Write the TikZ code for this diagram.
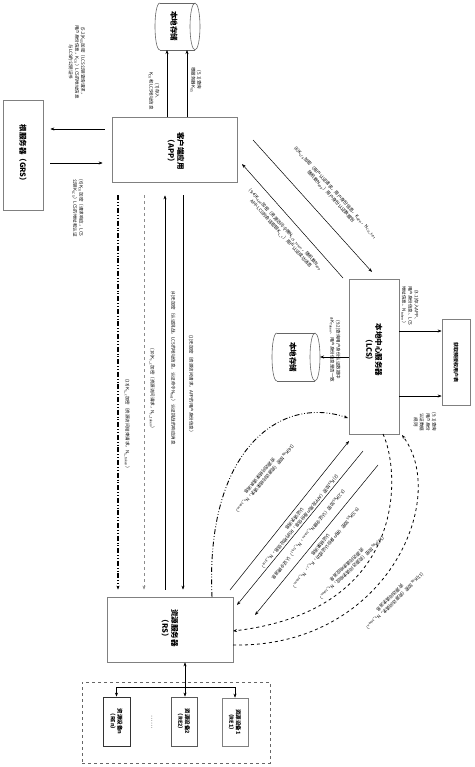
\documentclass[tikz,border=0pt]{standalone}
\usepackage{fontspec}
\setmainfont{Noto Sans CJK SC}
\usetikzlibrary{arrows.meta}
\begin{document}
\begin{tikzpicture}[x=1pt,y=-1pt,
  box/.style={draw=black!50, line width=0.7pt, inner sep=0pt},
  dbox/.style={draw=black!80, line width=0.8pt, inner sep=0pt},
  cyl/.style={draw=black!60, line width=0.6pt},
  lbl/.style={font=\fontsize{4.5}{6.2}\selectfont, align=center, inner sep=0.3pt},
  ttl/.style={font=\fontsize{7.5}{9.5}\selectfont\bfseries, align=center, inner sep=0pt},
  sttl/.style={font=\fontsize{5.5}{7}\selectfont\bfseries, align=center, inner sep=0pt},
  arr/.style={-{Stealth[length=4pt,width=3pt]}, line width=0.5pt},
  dashdotdot/.style={line width=1.1pt, dash pattern=on 5pt off 2pt on 0.8pt off 2pt on 0.8pt off 2pt},
  ]
\useasboundingbox (0,0) rectangle (474,767);

% ---------- boxes ----------
\node[box, minimum width=40pt, minimum height=110pt] (grs) at (23,155) {};
\node[ttl, rotate=-90] (grst) at (grs.center) {根服务器（GRS）};
\node[box, minimum width=125pt, minimum height=65pt] (app) at (174.5,149.5) {};
\node[ttl, rotate=-90] (appt) at (176,151) {客户端应用\\（APP）};
\node[box, minimum width=50pt, minimum height=155pt] (lcs) at (374,356.5) {};
\node[ttl, rotate=-90] (lcst) at (374,350) {本地中心服务器\\（LCS）};
\node[box, minimum width=28pt, minimum height=86pt] (tab) at (456,362) {};
\node[sttl, font=\fontsize{5}{6}\selectfont\bfseries, rotate=-90] (tabt) at (tab.center) {获取预授权用户表};
\node[box, minimum width=126pt, minimum height=65pt] (rs) at (170,629.5) {};
\node[ttl, rotate=-90] (rst) at (170,628) {资源服务器\\（RS）};
\node[draw=black!60, dashed, line width=0.8pt, minimum width=188pt, minimum height=81pt] (grp) at (176,722.5) {};
\node[dbox, minimum width=27pt, minimum height=49pt] (ren) at (116.5,721.5) {};
\node[sttl, rotate=-90] (rent) at (ren.center) {资源设备n\\（REn）};
\node[dbox, draw=black!65, minimum width=26pt, minimum height=49pt] (re2) at (184,721.5) {};
\node[sttl, rotate=-90] (re2t) at (re2.center) {资源设备2\\（RE2）};
\node[box, minimum width=26pt, minimum height=48pt] (re1) at (235,722) {};
\node[sttl, rotate=-90] (re1t) at (re1.center) {资源设备1\\（RE1）};
\node[lbl, rotate=-90, font=\fontsize{6}{7}\selectfont] (dots) at (152,722) {……};

% ---------- cylinders ----------
\draw[cyl] (160,3) -- (195,3) (160,50) -- (195,50);
\draw[cyl] (195,26.5) ellipse [x radius=5, y radius=23.5];
\draw[cyl] (160,3) .. controls (153.33,3) and (153.33,50) .. (160,50);
\node[ttl, rotate=-90] (st1) at (174,26.5) {本地存储};
\coordinate (st1b) at (175,50);

\draw[cyl] (277,333) -- (315,333) (277,381) -- (315,381);
\draw[cyl] (315,357) ellipse [x radius=5, y radius=24];
\draw[cyl] (277,333) .. controls (270.33,333) and (270.33,381) .. (277,381);
\node[ttl, rotate=-90] (st2) at (293,357) {本地存储};
\coordinate (st2r) at (320,357);

% ---------- APP <-> top storage ----------
\coordinate (ua) at (167,0); \coordinate (ub) at (187,0);
\draw[arr] (app.north -| ua) -- (st1b -| ua);
\draw[arr] (app.north -| ub) -- (st1b -| ub);
\node[lbl, rotate=-90] (l7) at (154,91) {(7)存入\\K$_{\mathrm{CU}}$和LCS地址信息};
\node[lbl, rotate=-90] (l51) at (196,80) {(5.1)查询\\根服务器K$_{\mathrm{GS}}$};

% ---------- APP <-> GRS ----------
\coordinate (ga) at (0,129); \coordinate (gb) at (0,163);
\draw[arr, shorten <=7pt, shorten >=7pt] (app.west |- ga) -- (grs.east |- ga);
\draw[arr, shorten <=7pt, shorten >=9pt] (grs.east |- gb) -- (app.west |- gb);
\node[lbl, rotate=-90] (l52) at (77,62) {(5.2)K$_{\mathrm{GS}}$加密（LCS公钥查询请求，\\用户身份信息，K$_{\mathrm{CU}}$）LCS的地址信息\\与LCS的公钥证书};
\node[lbl, rotate=-90] (l6) at (78,208) {(6)K$_{\mathrm{CU}}$加密（请求响应，LCS\\公钥K$_{\mathrm{LCS}}$）LCS的地址和认证};

% ---------- APP <-> LCS ----------
\coordinate (d8a) at (253,140); \coordinate (d8b) at (372,272);
\coordinate (d9a) at (343,278); \coordinate (d9b) at (242,164);
\draw[arr] (d8a) -- (d8b);
\draw[arr] (d9a) -- (d9b);
\node[lbl, rotate=-48] (l8) at (333,195) {(8)K$_{\mathrm{LCS}}$加密（用户认证请求，用户身份信息，K$_{\mathrm{APP}}$，N$_{\mathrm{CU\_first}}$\\随机数N$_{\mathrm{app}}$）用户身份认证数据包};
\node[lbl, rotate=-48] (l94) at (283,232) {(9.4)K$_{\mathrm{APP}}$加密（资源访问令牌N$_{\mathrm{LCS\_token}}$，随机数N$_{\mathrm{app}}$\\APP-LCS的会话密钥K$_{\mathrm{s\_c}}$）用户认证成功消息};

% ---------- LCS <-> table, storage ----------
\coordinate (ta) at (0,331); \coordinate (tb) at (0,396);
\draw[arr] (lcs.east |- ta) -- (tab.west |- ta);
\node[lbl, rotate=-90] (l31) at (410,306) {(3.1)存入APP、\\用户身份信息、LCS\\地址信息、N$_{\mathrm{token}}$）};
\draw[arr] (lcs.east |- tb) -- (tab.west |- tb);
\node[lbl, rotate=-90] (l91) at (425,422) {(9.1)查询\\用户身份\\认证数据\\规则};
\draw[arr] (lcs.west |- st2r) -- (st2r);
\node[lbl, rotate=-90] (l92) at (335,350) {(9.2)查询用户身份认证数据中\\aK$_{\mathrm{Token}}$、用户身份信息是否一致};

% ---------- APP <-> RS vertical ----------
\coordinate (v1) at (118,0); \coordinate (v2) at (144,0);
\coordinate (v3) at (165,0); \coordinate (v4) at (183,0);
\draw[arr, dashdotdot, shorten <=13pt, shorten >=7pt] (app.south -| v1) -- (rs.north -| v1);
\draw[arr, dashed, draw=black!45, shorten <=13pt, shorten >=7pt] (app.south -| v2) -- (rs.north -| v2);
\draw[arr, shorten <=7pt, shorten >=13pt] (rs.north -| v3) -- (app.south -| v3);
\draw[arr, shorten <=13pt, shorten >=7pt] (app.south -| v4) -- (rs.north -| v4);
\node[lbl, rotate=-90] (l13) at (127,425) {(13)K$_{\mathrm{s\_c}}$加密（资源访问结束请求，N$_{\mathrm{s\_token}}$）};
\node[lbl, rotate=-90] (l10) at (152,390) {(10)K$_{\mathrm{s\_c}}$加密（资源访问请求，N$_{\mathrm{s\_token}}$）};
\node[lbl, rotate=-90] (l4) at (173,368) {(4)无加密（认证挑战，LCS的地址信息，认证命令N$_{\mathrm{first}}$）认证挑战的响应消息};
\node[lbl, rotate=-90] (l1) at (191,385) {(1)无加密（资源访问请求，APP的用户身份信息）};

% ---------- RS <-> LCS straight ----------
\coordinate (s2a) at (230,590); \coordinate (s2b) at (349,441);
\coordinate (s3a) at (363,451); \coordinate (s3b) at (237,605);
\coordinate (s9a) at (378,465); \coordinate (s9b) at (255,615);
\draw[arr] (s2a) -- (s2b);
\draw[arr] (s3a) -- (s3b);
\draw[arr] (s9a) -- (s9b);
\node[lbl, rotate=-129] (l2) at (297,521) {(2)K$_{\mathrm{RS}}$加密（APP及用户身份信息，RS的地址信息，N$_{\mathrm{s\_first}}$）\\认证请求消息};
\node[lbl, rotate=-129] (l32) at (308,534) {(3.2)K$_{\mathrm{RS}}$加密（认证令牌N$_{\mathrm{s\_token}}$，N$_{\mathrm{s\_first}}$）认证令牌消息};
\node[lbl, rotate=-129] (l93) at (323,547) {(9.3)K$_{\mathrm{RS}}$加密（用户身份认证成功，K$_{\mathrm{s\_c}}$，N$_{\mathrm{s\_token}}$）\\认证结果消息};

% ---------- RS <-> LCS curves ----------
\coordinate (c12a) at (383,434); \coordinate (c12b) at (233,631);
\coordinate (c11a) at (233,645); \coordinate (c11b) at (402,435);
\draw[arr, dashed, line width=0.8pt] (c12a) .. controls (400,470) and (410,610) .. (c12b);
\draw[arr, dashed, line width=0.8pt] (c11a) .. controls (385,648) and (450,500) .. (c11b);
\node[lbl, rotate=-136] (l12) at (349,567) {(12)K$_{\mathrm{RS}}$加密（资源访问请求响应，N$_{\mathrm{s\_token}}$）\\资源访问请求响应消息};
\node[lbl, rotate=-135] (l11) at (392,600) {(11)K$_{\mathrm{RS}}$加密（资源访问请求，N$_{\mathrm{s\_token}}$）\\资源访问请求消息};

\coordinate (c14a) at (212,597); \coordinate (c14b) at (348,418);
\draw[arr, dashdotdot, line width=0.9pt] (c14a) .. controls (205,450) and (280,395) .. (c14b);
\node[lbl, rotate=-130] (l14) at (262,478) {(14)K$_{\mathrm{RS}}$加密（资源访问结束请求，N$_{\mathrm{s\_token}}$）\\资源访问结束请求消息};

% ---------- RS <-> devices ----------
\coordinate (hub) at (185,687);
\draw[{Stealth[length=4pt,width=3pt]}-{Stealth[length=4pt,width=3pt]}, line width=0.5pt] (rs.south -| hub) -- (re2.north -| hub);
\draw[arr] (hub) -| (ren.north);
\draw[arr] (hub) -| (re1.north);
\end{tikzpicture}
\end{document}
